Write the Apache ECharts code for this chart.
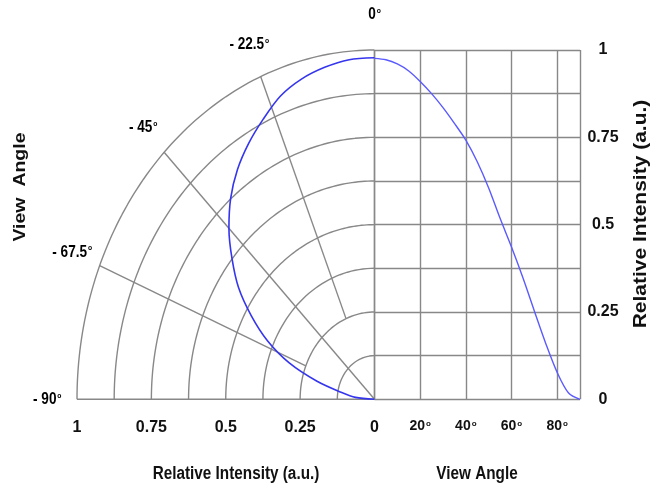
<!DOCTYPE html>
<html>
<head>
<meta charset="utf-8">
<script src="https://cdn.jsdelivr.net/npm/echarts@6/dist/echarts.min.js"></script>
<style>
  html, body { margin: 0; padding: 0; background: #fff; }
  #chart { width: 661px; height: 486px; }
</style>
</head>
<body>
<div id="chart"></div>
<script>
// right panel: relative intensity vs view angle (deg)
var viewAngle = [0, 5, 10, 15, 20, 25, 30, 35, 40, 45, 50, 55, 60, 65, 70, 75, 80, 85, 90];
var intensity = [0.976, 0.972, 0.96, 0.94, 0.91, 0.875, 0.835, 0.79, 0.742, 0.68, 0.605, 0.518, 0.436, 0.348, 0.253, 0.16, 0.077, 0.018, 0];

// left panel: the same pattern drawn as a polar plot (angle measured from 0 deg axis)
var polarAngle = [0, 5, 10, 15, 20, 25, 30, 35, 40, 45, 50, 55, 60, 65, 70, 75, 80, 85, 90];
var polarIntensity = [0.978, 0.976, 0.965, 0.949, 0.924, 0.885, 0.846, 0.803, 0.752, 0.692, 0.625, 0.558, 0.478, 0.397, 0.305, 0.2, 0.112, 0.064, 0];

// polar grid
var ringRadius = [0.125, 0.25, 0.375, 0.5, 0.625, 0.75, 0.875, 1];
var spokeAngle = [0, 22.5, 45, 67.5, 90];
var spokeFrom = [0, 0.25, 0, 0.25, 0];
var angleLabels = ['0', '- 22.5', '- 45', '- 67.5', '- 90'];

var GRID_COLOR = '#888';
var TEXT_COLOR = '#111';
var FONT = "'Liberation Sans', Arial, sans-serif";

// angle (deg) + radius -> x/y of left panel (x negative to the left)
function toXY(deg, r) {
  var a = deg * Math.PI / 180;
  return [-r * Math.sin(a), r * Math.cos(a)];
}

function degRich(size) {
  return {
    n: { fontFamily: FONT, fontWeight: 'bold', fontSize: size, color: TEXT_COLOR },
    s: { fontFamily: FONT, fontWeight: 'bold', fontSize: 8, color: TEXT_COLOR, verticalAlign: 'top', padding: [0, 0, 0, 1] }
  };
}

var series = [];

// rings
ringRadius.forEach(function (r) {
  var pts = [];
  for (var a = 0; a <= 90; a += 1) pts.push(toXY(a, r));
  series.push({
    type: 'line', xAxisIndex: 0, yAxisIndex: 0, data: pts,
    showSymbol: false, silent: true, clip: false,
    lineStyle: { color: GRID_COLOR, width: 1.4 }
  });
});

// spokes
spokeAngle.forEach(function (a, i) {
  series.push({
    type: 'line', xAxisIndex: 0, yAxisIndex: 0,
    data: [toXY(a, spokeFrom[i]), toXY(a, 1)],
    showSymbol: false, silent: true, clip: false,
    lineStyle: { color: GRID_COLOR, width: 1.4 }
  });
});

// angle labels just outside the outer ring (text squeezed like the source)
series.push({
  type: 'custom', xAxisIndex: 0, yAxisIndex: 0, silent: true,
  data: spokeAngle.map(function (a, i) { var p = toXY(a, 1.1); return [p[0], p[1], i]; }),
  renderItem: function (params, api) {
    var p = api.coord([api.value(0), api.value(1)]);
    return {
      type: 'text', x: p[0], y: p[1], scaleX: 0.85,
      style: {
        text: '{n|' + angleLabels[api.value(2)] + '}{s|o}',
        rich: degRich(16), align: 'center', verticalAlign: 'middle'
      }
    };
  }
});

// polar curve
series.push({
  type: 'line', xAxisIndex: 0, yAxisIndex: 0, clip: false,
  data: polarAngle.map(function (a, i) { return toXY(a, polarIntensity[i]); }),
  showSymbol: false, smooth: 0.3,
  lineStyle: { color: '#3535ee', width: 1.6 }
});

// right curve
series.push({
  type: 'line', xAxisIndex: 1, yAxisIndex: 1,
  data: viewAngle.map(function (a, i) { return [a, intensity[i]]; }),
  showSymbol: false, smooth: 0.3,
  lineStyle: { color: '#5a5aff', width: 1.4 }
});

var chart = echarts.init(document.getElementById('chart'));
chart.setOption({
  animation: false,
  backgroundColor: '#fff',
  grid: [
    { left: 77, right: 286.5, top: 50, bottom: 86.7 },
    { left: 374.5, right: 81, top: 50, bottom: 86.7 }
  ],
  xAxis: [
    {
      gridIndex: 0, type: 'value', min: -1, max: 0, interval: 0.25,
      axisLine: { show: false }, axisTick: { show: false }, splitLine: { show: false },
      axisLabel: {
        margin: 20, color: TEXT_COLOR, fontFamily: FONT, fontWeight: 'bold', fontSize: 16,
        formatter: function (v) { return String(Math.abs(v)); }
      }
    },
    {
      gridIndex: 1, type: 'value', min: 0, max: 90, interval: 20,
      axisLine: { show: false }, axisTick: { show: false },
      splitLine: { show: true, lineStyle: { color: GRID_COLOR, width: 1.4 } },
      axisLabel: {
        margin: 20, showMaxLabel: false,
        formatter: function (v) { return (v === 0 || v === 90) ? '' : '{n|' + v + '}{s|o}'; },
        rich: degRich(14)
      }
    }
  ],
  yAxis: [
    {
      gridIndex: 0, type: 'value', min: 0, max: 1, show: false
    },
    {
      gridIndex: 1, type: 'value', min: 0, max: 1, interval: 0.125, position: 'right',
      axisLine: { show: false }, axisTick: { show: false },
      splitLine: { show: true, lineStyle: { color: GRID_COLOR, width: 1.4 } },
      axisLabel: {
        margin: 23, align: 'center', color: TEXT_COLOR, fontFamily: FONT, fontWeight: 'bold', fontSize: 16,
        formatter: function (v) {
          var q = v * 4;
          return Math.abs(q - Math.round(q)) < 1e-6 ? String(v) : '';
        }
      }
    }
  ],
  graphic: [
    { type: 'text', x: 236, y: 474, scaleX: 0.85, silent: true,
      style: { text: 'Relative Intensity (a.u.)', fill: TEXT_COLOR, font: 'bold 18px ' + FONT, align: 'center', verticalAlign: 'middle' } },
    { type: 'text', x: 477, y: 474, scaleX: 0.85, silent: true,
      style: { text: 'View Angle', fill: TEXT_COLOR, font: 'bold 18px ' + FONT, align: 'center', verticalAlign: 'middle' } },
    { type: 'text', x: 20, y: 187, rotation: Math.PI / 2, scaleY: 0.85, silent: true,
      style: { text: 'View  Angle', fill: TEXT_COLOR, font: 'bold 19.5px ' + FONT, align: 'center', verticalAlign: 'middle' } },
    { type: 'text', x: 641, y: 214, rotation: Math.PI / 2, scaleY: 0.85, silent: true,
      style: { text: 'Relative Intensity (a.u.)', fill: TEXT_COLOR, font: 'bold 21px ' + FONT, align: 'center', verticalAlign: 'middle' } }
  ],
  series: series
});
</script>
</body>
</html>
